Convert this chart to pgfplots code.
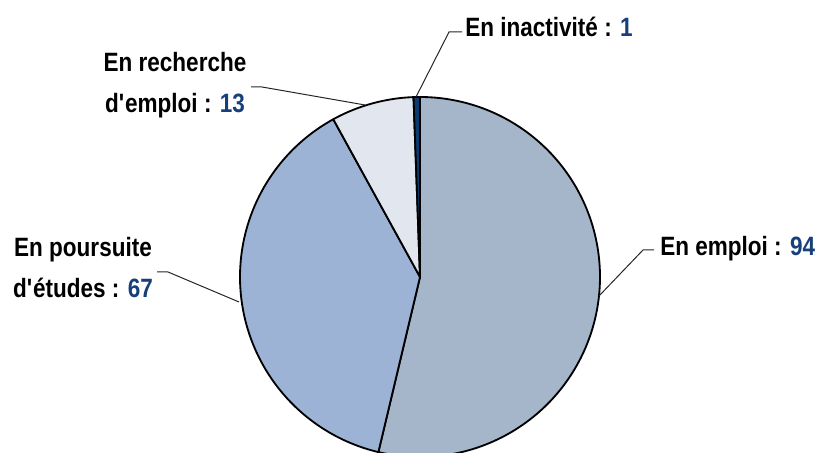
\documentclass[border=0pt]{standalone}
\usepackage{pgfplots}
\usepackage{pgfplotstable}
\pgfplotsset{compat=1.18}
\usepackage{fontspec}
\setmainfont{Liberation Sans}[FakeStretch=0.85]
\definecolor{cEmploi}{HTML}{A6B6CA}
\definecolor{cEtudes}{HTML}{9CB3D6}
\definecolor{cRech}{HTML}{E1E6EF}
\definecolor{cInact}{HTML}{0D3B70}
\definecolor{cNum}{HTML}{17407A}
\definecolor{cLead}{HTML}{262626}
\newcommand\lbl{\fontsize{15.9}{24.6}\selectfont\bfseries}

\pgfplotstableread{
cat val
emploi 94
etudes 67
recherche 13
inactivite 1
}\piedata

\begin{document}
\begin{tikzpicture}
\pgfplotstablegetelem{0}{val}\of\piedata \let\vA\pgfplotsretval
\pgfplotstablegetelem{1}{val}\of\piedata \let\vB\pgfplotsretval
\pgfplotstablegetelem{2}{val}\of\piedata \let\vC\pgfplotsretval
\pgfplotstablegetelem{3}{val}\of\piedata \let\vD\pgfplotsretval
\pgfmathsetmacro\tot{\vA+\vB+\vC+\vD}
\pgfmathsetmacro\aA{90-360*(\vA/\tot)}
\pgfmathsetmacro\aB{\aA-360*(\vB/\tot)}
\pgfmathsetmacro\aC{\aB-360*(\vC/\tot)}
\pgfmathsetmacro\aD{\aC-360*(\vD/\tot)}
\begin{axis}[
  scale only axis, width=490.8pt, height=271.8pt,
  xmin=0, xmax=818, ymin=0, ymax=453,
  hide axis, clip=false,
]
\addplot[fill=cEmploi, draw=black, line width=1.1pt, line join=round, domain=\aA:90, samples=150, variable=\t]
  ({420+180*cos(\t)},{176+180*sin(\t)}) -- (axis cs:420,176) -- cycle;
\addplot[fill=cEtudes, draw=black, line width=1.1pt, line join=round, domain=\aB:\aA, samples=120, variable=\t]
  ({420+180*cos(\t)},{176+180*sin(\t)}) -- (axis cs:420,176) -- cycle;
\addplot[fill=cRech, draw=black, line width=1.1pt, line join=round, domain=\aC:\aB, samples=30, variable=\t]
  ({420+180*cos(\t)},{176+180*sin(\t)}) -- (axis cs:420,176) -- cycle;
\addplot[fill=cInact, draw=black, line width=1.1pt, line join=round, domain=\aD:\aC, samples=5, variable=\t]
  ({420+180*cos(\t)},{176+180*sin(\t)}) -- (axis cs:420,176) -- cycle;

% leader lines
\draw[cLead, line width=0.6pt] (axis cs:416,356) -- (axis cs:449,421) -- (axis cs:462,421);
\draw[cLead, line width=0.6pt] (axis cs:365,348) -- (axis cs:262,366) -- (axis cs:251,366);
\draw[cLead, line width=0.6pt] (axis cs:239,151) -- (axis cs:168,181) -- (axis cs:157,181);
\draw[cLead, line width=0.6pt] (axis cs:599,157) -- (axis cs:643,203) -- (axis cs:654,203);

% labels
\node[anchor=base west, inner sep=0pt, font=\lbl] at (axis cs:465,416) {En inactivité : \textcolor{cNum}{1}};
\node[anchor=base west, inner sep=0pt, font=\lbl] at (axis cs:660,197) {En emploi : \textcolor{cNum}{94}};
\node[anchor=base, inner sep=0pt, font=\lbl] at (axis cs:175,381) {En recherche};
\node[anchor=base, inner sep=0pt, font=\lbl] at (axis cs:175,340) {d\textquotesingle emploi : \textcolor{cNum}{13}};
\node[anchor=base, inner sep=0pt, font=\lbl] at (axis cs:83,196) {En poursuite};
\node[anchor=base, inner sep=0pt, font=\lbl] at (axis cs:83,155) {d\textquotesingle études : \textcolor{cNum}{67}};
\end{axis}
\pgfresetboundingbox
\path (0,0) rectangle (490.8pt,271.8pt);
\end{tikzpicture}
\end{document}
